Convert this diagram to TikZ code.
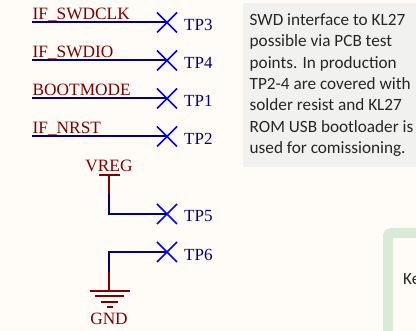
\documentclass[tikz,border=0pt]{standalone}
\usepackage{fontspec}
\setmainfont{Liberation Serif}
\newfontfamily\notefont{Carlito}
\definecolor{bgc}{HTML}{FFFCF8}
\definecolor{wirec}{HTML}{000080}
\definecolor{netc}{HTML}{800000}
\definecolor{xc}{HTML}{0000FF}
\definecolor{notec}{HTML}{F1F1F0}
\definecolor{greenc}{HTML}{D9EBD6}
\tikzset{
  x=1pt,y=-1pt,
  wire/.style={draw=wirec,line width=2pt},
  netwire/.style={draw=netc,line width=2pt},
  xmark/.style={draw=xc,line width=1.7pt},
  netlabel/.style={text=netc,font=\fontsize{17.3}{17.3}\selectfont,inner sep=0pt},
  tplabel/.style={text=wirec,font=\fontsize{17}{17}\selectfont,inner sep=0pt,anchor=west},
  notetext/.style={font=\notefont\fontsize{17.2}{21.3}\selectfont,text=black!85,inner sep=0pt,anchor=north west,align=left},
}
\newcommand{\xat}[1]{\draw[xmark] ([shift={(-10,-10)}]#1) -- ([shift={(10,10)}]#1) ([shift={(-10,10)}]#1) -- ([shift={(10,-10)}]#1);}
\begin{document}
\begin{tikzpicture}
\useasboundingbox (0,0) rectangle (416,331);
\fill[bgc] (0,0) rectangle (416,331);
% note box
\fill[notec] (243,3) rectangle (416,167);
\node[notetext] (note) at (249.5,13.5) {SWD interface to KL27\\possible via PCB test\\points. In production\\TP2-4 are covered with\\solder resist and KL27\\ROM USB bootloader is\\used for comissioning.};
% green box
\draw[greenc,line width=10pt,rounded corners=3pt] (388,340) -- (388,233) -- (425,233);
\node[anchor=base west,inner sep=0pt,font=\notefont\fontsize{17.2}{20}\selectfont,text=black!85] (key) at (403,285) {Ke};
% signal rows
\foreach \nm/\tp/\y/\ly in {IF\_SWDCLK/TP3/22.5/25,IF\_SWDIO/TP4/60.5/63,BOOTMODE/TP1/98.5/101,IF\_NRST/TP2/136.5/139}{
  \coordinate (a) at (32,\y);
  \coordinate (t) at (167,\y);
  \node[netlabel,anchor=base west] (n) at (32.5,\y-3) {\nm};
  \node[tplabel] (l) at (184,\ly) {\tp};
  \draw[wire] (a) -- (t);
  \xat{t}
}
% VREG
\coordinate (vt) at (109,175);
\coordinate (vm) at (109,194);
\coordinate (vc) at (109,214);
\coordinate (tp5) at (167,214);
\node[netlabel] (vreg) at (109,166) {VREG};
\draw[netwire] (99,175) -- (120,175);
\draw[wire] (vm) -- (vc) -- (tp5);
\draw[netwire] (vt) -- (vm);
\xat{tp5}
\node[tplabel] (l5) at (184,216.5) {TP5};
% GND
\coordinate (gc) at (109,252);
\coordinate (gm) at (109,272);
\coordinate (gb) at (109,291);
\coordinate (tp6) at (167,252);
\draw[wire] (gm) -- (gc) -- (tp6);
\draw[netwire] (gm) -- (gb);
\draw[netwire] (89.5,291) -- (129.5,291) (95,296.5) -- (123.5,296.5) (101,302) -- (118,302) (107,307.5) -- (112.5,307.5);
\xat{tp6}
\node[tplabel] (l6) at (184,254.5) {TP6};
\node[netlabel] (gnd) at (109,319) {GND};
\end{tikzpicture}
\end{document}
